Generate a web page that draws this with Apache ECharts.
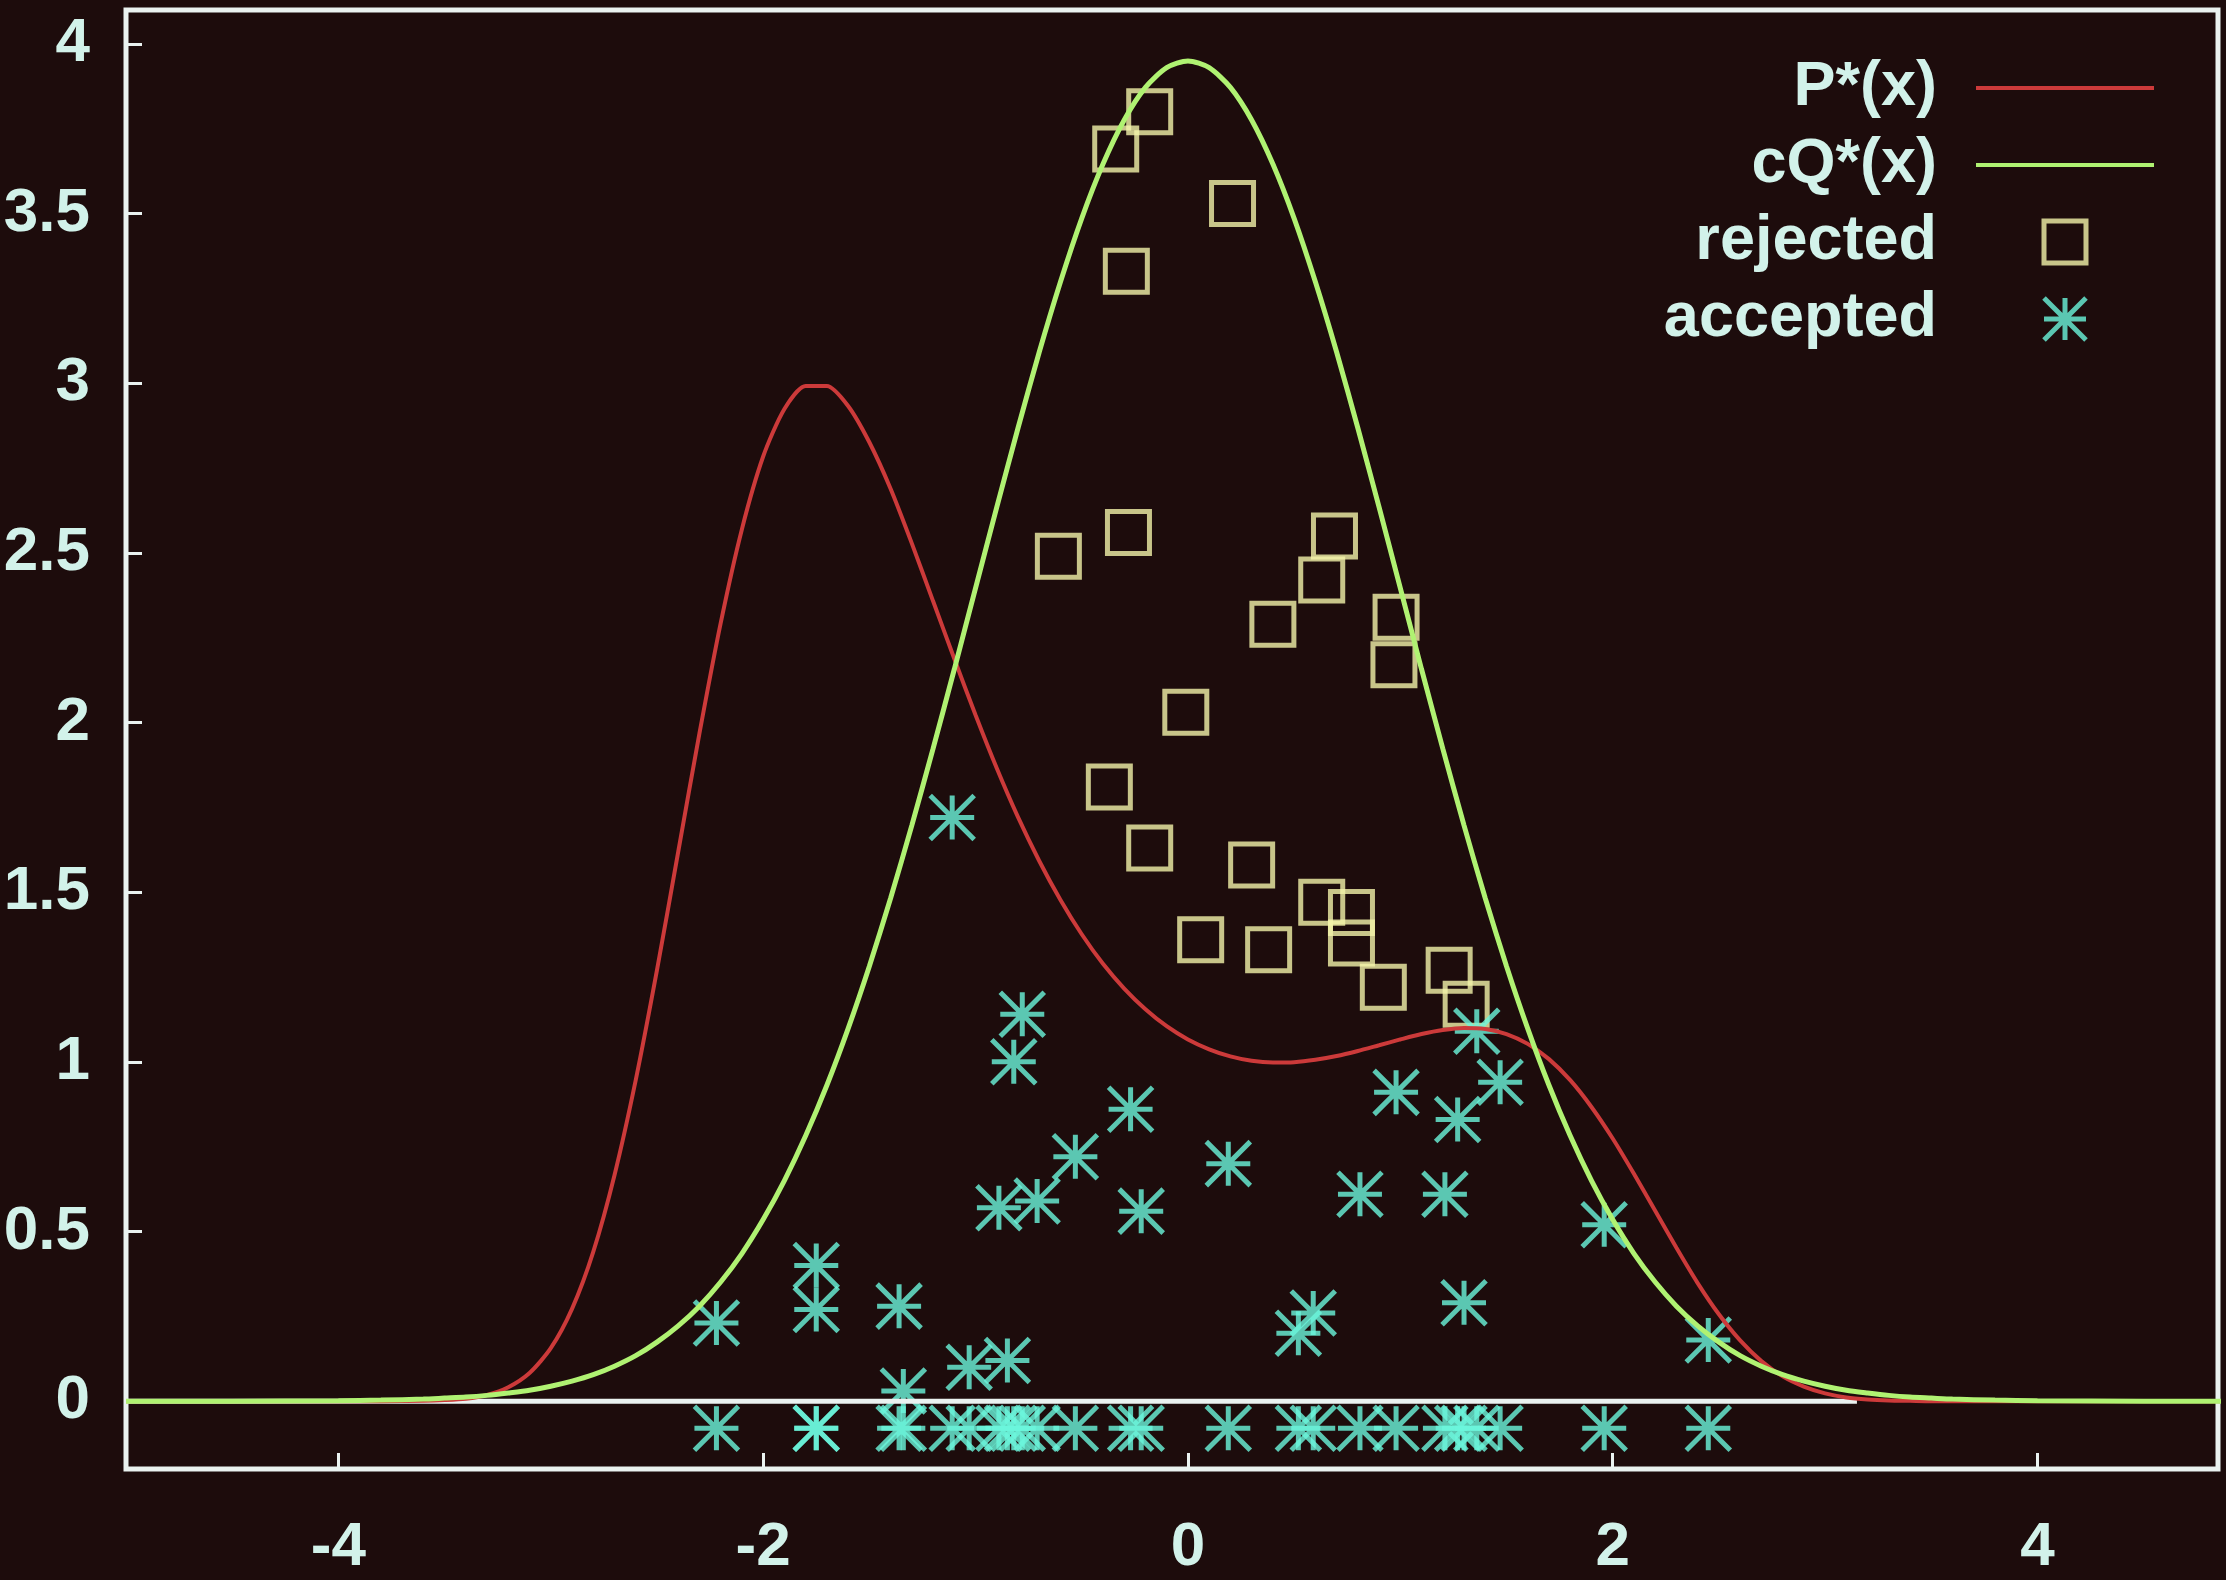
<!DOCTYPE html>
<html>
<head>
<meta charset="utf-8">
<title>Rejection sampling</title>
<script src="https://cdn.jsdelivr.net/npm/echarts@6/dist/echarts.min.js"></script>
<style>
  html, body { margin: 0; padding: 0; background: #1c0c0c; }
  #chart { width: 2226px; height: 1580px; }
</style>
</head>
<body>
<div id="chart"></div>
<script>
// x positions at which both density curves are tabulated
const CURVE_X = [
  -5, -4.5, -4, -3.8, -3.6,
  -3.5, -3.4, -3.3, -3.2, -3.1, -3.0, -2.9, -2.8, -2.7, -2.6,
  -2.5, -2.4, -2.3, -2.2, -2.1, -2.0, -1.9, -1.8, -1.7, -1.6,
  -1.5, -1.4, -1.3, -1.2, -1.1, -1.0, -0.9, -0.8, -0.7, -0.6,
  -0.5, -0.4, -0.3, -0.2, -0.1, 0,
  0.1, 0.2, 0.3, 0.4, 0.5, 0.6, 0.7, 0.8, 0.9, 1.0,
  1.1, 1.2, 1.3, 1.4, 1.5, 1.6, 1.7, 1.8, 1.9, 2.0,
  2.1, 2.2, 2.3, 2.4, 2.5, 2.6, 2.7, 2.8, 2.9, 3.0,
  3.1, 3.2, 3.3, 3.4, 3.5,
  3.6, 3.8, 4, 4.5, 5
];

// unnormalised target density P*(x)
const P_STAR = [
  0, 0, 0, 0, 0.001,
  0.003, 0.007, 0.018, 0.041, 0.083, 0.156, 0.272, 0.440, 0.666, 0.946,
  1.270, 1.619, 1.968, 2.293, 2.570, 2.784, 2.924, 2.992, 2.992, 2.933,
  2.826, 2.689, 2.528, 2.358, 2.188, 2.022, 1.865, 1.721, 1.592, 1.477,
  1.376, 1.289, 1.216, 1.155, 1.105, 1.066,
  1.037, 1.016, 1.003, 0.998, 0.999, 1.006, 1.017, 1.032, 1.049, 1.066,
  1.082, 1.094, 1.100, 1.097, 1.082, 1.053, 1.008, 0.946, 0.867, 0.774,
  0.670, 0.561, 0.452, 0.348, 0.256, 0.179, 0.118, 0.073, 0.043, 0.023,
  0.011, 0.005, 0.002, 0.001, 0,
  0, 0, 0, 0, 0
];

// scaled proposal density cQ*(x)
const CQ_STAR = [
  0, 0, 0.001, 0.003, 0.006,
  0.009, 0.012, 0.017, 0.024, 0.032, 0.044, 0.059, 0.078, 0.103, 0.134,
  0.174, 0.222, 0.280, 0.351, 0.435, 0.535, 0.650, 0.782, 0.931, 1.098,
  1.282, 1.482, 1.697, 1.923, 2.157, 2.396, 2.635, 2.868, 3.092, 3.299,
  3.486, 3.646, 3.776, 3.872, 3.930, 3.950,
  3.930, 3.872, 3.776, 3.646, 3.486, 3.299, 3.092, 2.868, 2.635, 2.396,
  2.157, 1.923, 1.697, 1.482, 1.282, 1.098, 0.931, 0.782, 0.650, 0.535,
  0.435, 0.351, 0.280, 0.222, 0.174, 0.134, 0.103, 0.078, 0.059, 0.044,
  0.032, 0.024, 0.017, 0.012, 0.009,
  0.006, 0.003, 0.001, 0, 0
];

// proposals (x, u) lying above P*(x)
const REJECTED_X = [-0.18, -0.34, 0.21, -0.29, -0.61, -0.28, 0.69, 0.63, 0.40, 0.98, 0.97, -0.01,
                    -0.37, -0.18, 0.30, 0.63, 0.77, 0.77, 0.06, 0.38, 0.92, 1.23, 1.31];
const REJECTED_Y = [3.80, 3.69, 3.53, 3.33, 2.49, 2.56, 2.55, 2.42, 2.29, 2.31, 2.17, 2.03,
                    1.81, 1.63, 1.58, 1.47, 1.44, 1.35, 1.36, 1.33, 1.22, 1.27, 1.17];

// proposals (x, u) lying below P*(x)
const ACCEPTED_X = [-2.22, -1.75, -1.75, -1.36, -1.34, -1.11, -1.03, -0.89, -0.85, -0.82, -0.78, -0.71,
                    -0.53, -0.27, -0.22, 0.19, 0.52, 0.59, 0.81, 0.98, 1.21, 1.27, 1.30, 1.36,
                    1.47, 1.96, 2.45];
const ACCEPTED_Y = [0.23, 0.40, 0.27, 0.28, 0.03, 1.72, 0.10, 0.57, 0.12, 1.00, 1.14, 0.59,
                    0.72, 0.86, 0.56, 0.70, 0.20, 0.26, 0.61, 0.91, 0.61, 0.83, 0.29, 1.09,
                    0.94, 0.52, 0.18];

const X_TICKS = [-4, -2, 0, 2, 4];
const Y_TICKS = [0, 0.5, 1, 1.5, 2, 2.5, 3, 3.5, 4];
const BASELINE_X = [-5, 3.15];   // extent of the zero line
const RUG_Y = -0.08;             // row where accepted samples are marked below the axis

const BG = '#1d0c0c';
const FRAME = '#eaf2f0';
const TEXT = '#d2f2ea';
const RED = '#cc3a3a';
const GREEN = '#b0f272';
const YELLOW = '#f4f4aa';
const CYAN = '#6cf6dc';
const FONT = '"Liberation Sans", Arial, sans-serif';
const STAR = 'path://M0,-1L0,1M-1,0L1,0M-1,-1L1,1M-1,1L1,-1';
const SQUARE = 'path://M0,0L1,0L1,1L0,1Z';
const BAR = 'path://M0,0L178,0L178,4L0,4Z';

const pair = (xs, ys) => xs.map((x, i) => [x, ys[i]]);

const chart = echarts.init(document.getElementById('chart'), null, { renderer: 'canvas' });

chart.setOption({
  animation: false,
  backgroundColor: BG,
  grid: {
    left: 126, right: 8, top: 10, bottom: 111,
    show: true, borderColor: FRAME, borderWidth: 5
  },
  xAxis: {
    type: 'value', min: -5, max: 4.85,
    axisLine: { show: false, onZero: false },
    splitLine: { show: false },
    axisTick: { inside: true, length: 16, customValues: X_TICKS, lineStyle: { color: FRAME, width: 3 } },
    axisLabel: { customValues: X_TICKS, color: TEXT, fontFamily: FONT, fontSize: 62, fontWeight: 'bold', margin: 48 }
  },
  yAxis: {
    type: 'value', min: -0.2, max: 4.1,
    axisLine: { show: false, onZero: false },
    splitLine: { show: false },
    axisTick: { inside: true, length: 16, customValues: Y_TICKS, lineStyle: { color: FRAME, width: 3 } },
    axisLabel: { customValues: Y_TICKS, color: TEXT, fontFamily: FONT, fontSize: 62, fontWeight: 'bold', margin: 36 }
  },
  legend: {
    orient: 'vertical', align: 'right', right: 72, top: 56, padding: 0,
    itemWidth: 178, itemHeight: 42, itemGap: 13,
    selectedMode: false,
    textStyle: { color: TEXT, fontFamily: FONT, fontSize: 63, fontWeight: 'bold', lineHeight: 64, padding: [0, 34, 0, 0] },
    data: [
      { name: 'P*(x)', icon: BAR, itemStyle: { color: RED } },
      { name: 'cQ*(x)', icon: BAR, itemStyle: { color: GREEN } },
      { name: 'rejected', icon: SQUARE, itemStyle: { color: 'rgba(0,0,0,0)', borderColor: YELLOW, borderWidth: 5 } },
      { name: 'accepted', icon: STAR, itemStyle: { color: 'rgba(0,0,0,0)', borderColor: CYAN, borderWidth: 5 } }
    ]
  },
  series: [
    {
      name: 'zero', type: 'line', symbol: 'none', silent: true,
      data: BASELINE_X.map(x => [x, 0]),
      lineStyle: { color: FRAME, width: 5 }
    },
    {
      name: 'P*(x)', type: 'line', symbol: 'none', smooth: 0.25,
      data: pair(CURVE_X, P_STAR),
      lineStyle: { color: RED, width: 4 }, itemStyle: { color: RED }
    },
    {
      name: 'cQ*(x)', type: 'line', symbol: 'none', smooth: 0.25,
      data: pair(CURVE_X, CQ_STAR),
      lineStyle: { color: GREEN, width: 5 }, itemStyle: { color: GREEN }
    },
    {
      name: 'rejected', type: 'scatter', symbol: 'rect', symbolSize: 42,
      data: pair(REJECTED_X, REJECTED_Y),
      itemStyle: { color: 'rgba(0,0,0,0)', borderColor: YELLOW, borderWidth: 5 }
    },
    {
      name: 'accepted', type: 'scatter', symbol: STAR, symbolSize: 44,
      data: pair(ACCEPTED_X, ACCEPTED_Y),
      itemStyle: { color: 'rgba(0,0,0,0)', borderColor: CYAN, borderWidth: 5 }
    },
    {
      name: 'accepted samples', type: 'scatter', symbol: STAR, symbolSize: 44,
      data: ACCEPTED_X.map(x => [x, RUG_Y]),
      itemStyle: { color: 'rgba(0,0,0,0)', borderColor: CYAN, borderWidth: 5 }
    }
  ]
});
</script>
</body>
</html>
